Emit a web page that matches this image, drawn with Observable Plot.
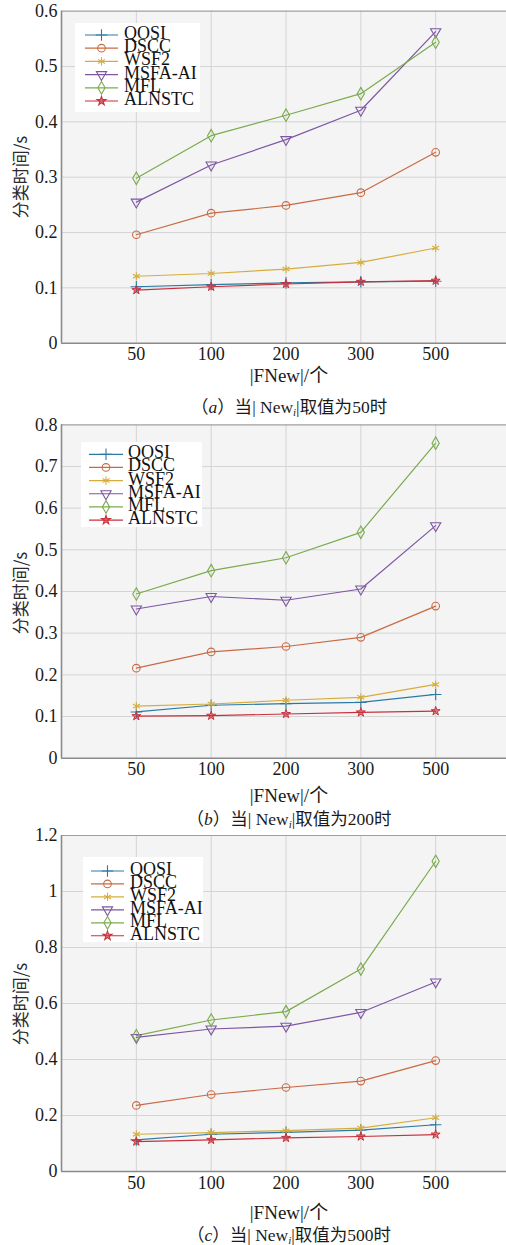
<!DOCTYPE html>
<html>
<head>
<meta charset="utf-8">
<script src="https://cdn.jsdelivr.net/npm/d3@7"></script>
<script src="https://cdn.jsdelivr.net/npm/@observablehq/plot@0.6"></script>
<style>
  html, body { margin: 0; padding: 0; background: #fff; }
  #root { position: relative; width: 506px; height: 1245px; overflow: hidden; color: #1a1a1a;
    font-family: "Liberation Serif", "Times New Roman", "DejaVu Serif", "Noto Sans CJK SC", serif; }
  #root svg text { font-family: "Liberation Serif", "Times New Roman", "DejaVu Serif", serif !important; }
  .abs { position: absolute; white-space: nowrap; }
  .panel { position: absolute; left: 0; }
  .cjk { font-family: "Noto Sans CJK SC", sans-serif; }
  .ylab { font-family: "Noto Sans CJK SC", sans-serif; font-size: 17px; color: #2a2a2a; transform: translate(-50%, -50%) rotate(-90deg); }
  .xlab { font-size: 19px; transform: translate(-50%, -50%); }
  .cap { font-size: 17.5px; transform: translate(-50%, -50%); }
  .cap sub { font-size: 11px; font-style: italic; vertical-align: -3px; }
</style>
</head>
<body>
<div id="root"></div>
<script>
// ---------------- data ----------------
const xLabels = ["50", "100", "200", "300", "500"];
const seriesNames = ["QOSI", "DSCC", "WSF2", "MSFA-AI", "MFL", "ALNSTC"];
const seriesColors = ["#2c7aa4", "#c96a44", "#d6ad3c", "#7e56a2", "#7aab4c", "#c8303c"];
const seriesSymbols = ["plus", "circle", "asterisk", "triangle", "diamond", "star"];

// panel (a): |New_i| = 50   rows follow seriesNames order
const valuesA = [
  [0.102, 0.106, 0.109, 0.111, 0.112],
  [0.196, 0.235, 0.249, 0.272, 0.345],
  [0.121, 0.126, 0.134, 0.146, 0.172],
  [0.255, 0.322, 0.368, 0.421, 0.563],
  [0.298, 0.375, 0.412, 0.451, 0.544],
  [0.096, 0.102, 0.107, 0.111, 0.113]
];
// panel (b): |New_i| = 200
const valuesB = [
  [0.111, 0.127, 0.131, 0.134, 0.153],
  [0.216, 0.255, 0.268, 0.290, 0.365],
  [0.125, 0.130, 0.139, 0.146, 0.177],
  [0.358, 0.388, 0.379, 0.406, 0.558],
  [0.394, 0.450, 0.481, 0.542, 0.756],
  [0.101, 0.102, 0.106, 0.110, 0.113]
];
// panel (c): |New_i| = 500
const valuesC = [
  [0.113, 0.133, 0.140, 0.148, 0.167],
  [0.236, 0.275, 0.300, 0.323, 0.396],
  [0.133, 0.139, 0.146, 0.155, 0.192],
  [0.479, 0.509, 0.519, 0.568, 0.677],
  [0.485, 0.541, 0.571, 0.723, 1.108],
  [0.107, 0.113, 0.120, 0.125, 0.132]
];
const yTicksA = [0, 0.1, 0.2, 0.3, 0.4, 0.5, 0.6];
const yTicksB = [0, 0.1, 0.2, 0.3, 0.4, 0.5, 0.6, 0.7, 0.8];
const yTicksC = [0, 0.2, 0.4, 0.6, 0.8, 1, 1.2];
const panelLetters = ["a", "b", "c"];
const panelNewValues = ["50", "200", "500"];
const yLabelText = "分类时间/s";
const xLabelText = "|FNew|/个";

// ---------------- layout ----------------
const SERIF = "'Liberation Serif', 'Times New Roman', 'DejaVu Serif', serif";
const layouts = [
  { top: 0,   height: 375, mt: 10.7, mb: 32.3, yLabY: 177,  xLabY: 372.5, capY: 405,
    legend: { left: 75, top: 23, w: 125, h: 89, x0: 85, x1: 118, row0: 35, dy: 13.2, tx: 124 } },
  { top: 420, height: 370, mt: 4.3,  mb: 32.3, yLabY: 593,  xLabY: 792.5, capY: 816.5,
    legend: { left: 81, top: 442, w: 121, h: 85, x0: 89, x1: 123, row0: 454.3, dy: 13.15, tx: 128 } },
  { top: 830, height: 375, mt: 5,    mb: 34,   yLabY: 1004, xLabY: 1210, capY: 1233,
    legend: { left: 83, top: 857, w: 120, h: 85, x0: 91, x1: 124, row0: 871, dy: 12.95, tx: 130 } }
];

const root = document.getElementById("root");
const allValues = [valuesA, valuesB, valuesC];
const allTicks = [yTicksA, yTicksB, yTicksC];

function makePanel(values, yTicks, L) {
  const data = [];
  seriesNames.forEach((s, si) => values[si].forEach((v, xi) => data.push({ series: s, xi: xi + 1, v })));
  const yMax = yTicks[yTicks.length - 1];
  const isStar = d => d.series === "ALNSTC";
  return Plot.plot({
    width: 506, height: L.height,
    marginLeft: 61, marginRight: 0, marginTop: L.mt, marginBottom: L.mb,
    style: { background: "transparent", fontFamily: SERIF, fontSize: "18px", color: "#1a1a1a", overflow: "visible" },
    x: { domain: [0, 6], range: [61, 510] },
    y: { domain: [0, yMax] },
    color: { domain: seriesNames, range: seriesColors },
    symbol: { domain: seriesNames, range: seriesSymbols },
    marks: [
      Plot.frame({ fill: "#f4f4f4", stroke: null }),
      Plot.gridY(yTicks.slice(1, -1), { stroke: "#d4d4d4", strokeOpacity: 1 }),
      Plot.gridX([1, 2, 3, 4, 5], { stroke: "#d4d4d4", strokeOpacity: 1 }),
      Plot.ruleY([yMax], { stroke: "#a0a0a0", strokeWidth: 1.2 }),
      Plot.ruleX([0], { stroke: "#8a8a8a", strokeWidth: 1.6 }),
      Plot.ruleY([0], { stroke: "#8a8a8a", strokeWidth: 1.6 }),
      Plot.axisY(yTicks, { tickSize: 0, tickPadding: 4, tickFormat: d => String(d), label: null, fontSize: 18, fontFamily: SERIF }),
      Plot.axisX([1, 2, 3, 4, 5], { tickSize: 0, tickPadding: 4.5, tickFormat: i => xLabels[i - 1], label: null, fontSize: 18, fontFamily: SERIF }),
      Plot.line(data, { x: "xi", y: "v", z: "series", stroke: "series", strokeWidth: 1.2 }),
      Plot.dot(data.filter(d => !isStar(d)), { x: "xi", y: "v", stroke: "series", symbol: "series", fill: "none", r: 3.8, strokeWidth: 1.1,
        rotate: d => (d.series === "MSFA-AI" ? 180 : 0) }),
      Plot.dot(data.filter(isStar), { x: "xi", y: "v", stroke: "series", fill: "series", fillOpacity: 0.55, symbol: "series", r: 2.8, strokeWidth: 1 })
    ]
  });
}

const symbolMap = { plus: d3.symbolPlus, circle: d3.symbolCircle, asterisk: d3.symbolAsterisk,
  triangle: d3.symbolTriangle, diamond: d3.symbolDiamond, star: d3.symbolStar };

function makeLegend(L) {
  const g = L.legend;
  const box = document.createElement("div");
  box.className = "abs";
  box.style.cssText = `left:${g.left}px;top:${g.top}px;width:${g.w}px;height:${g.h}px;background:#fff;`;
  root.appendChild(box);
  const svg = d3.select(root).append("svg").attr("class", "abs")
    .style("left", "0px").style("top", "0px").attr("width", 506).attr("height", 1245)
    .style("pointer-events", "none");
  seriesNames.forEach((s, i) => {
    const y = g.row0 + i * g.dy;
    const star = s === "ALNSTC";
    svg.append("line").attr("x1", g.x0).attr("x2", g.x1).attr("y1", y).attr("y2", y)
      .attr("stroke", seriesColors[i]).attr("stroke-width", 1.2);
    const cx = (g.x0 + g.x1) / 2;
    const r = star ? 2.8 : 3.8;
    svg.append("path").attr("d", d3.symbol(symbolMap[seriesSymbols[i]], Math.PI * r * r)())
      .attr("transform", `translate(${cx},${y})` + (s === "MSFA-AI" ? " rotate(180)" : ""))
      .attr("fill", star ? seriesColors[i] : "none").attr("fill-opacity", 0.55)
      .attr("stroke", seriesColors[i]).attr("stroke-width", 1.1);
    svg.append("text").attr("x", g.tx).attr("y", y + 4).text(s)
      .attr("font-family", SERIF).attr("font-size", 18).attr("fill", "#111");
  });
}

layouts.forEach((L, k) => {
  const wrap = document.createElement("div");
  wrap.className = "panel";
  wrap.style.top = L.top + "px";
  wrap.appendChild(makePanel(allValues[k], allTicks[k], L));
  root.appendChild(wrap);

  const yl = document.createElement("div");
  yl.className = "abs ylab";
  yl.style.left = "19px"; yl.style.top = L.yLabY + "px";
  yl.textContent = yLabelText;
  root.appendChild(yl);

  const xl = document.createElement("div");
  xl.className = "abs xlab";
  xl.style.left = "289px"; xl.style.top = L.xLabY + "px";
  xl.innerHTML = `|FNew|/<span class="cjk">个</span>`;
  root.appendChild(xl);

  const cap = document.createElement("div");
  cap.className = "abs cap";
  cap.style.left = "289px"; cap.style.top = L.capY + "px";
  cap.innerHTML = `<span class="cjk">（</span><i>${panelLetters[k]}</i><span class="cjk">）当</span>| New<sub>i</sub>|<span class="cjk">取值为</span>${panelNewValues[k]}<span class="cjk">时</span>`;
  root.appendChild(cap);

  makeLegend(L);
});
</script>
</body>
</html>
